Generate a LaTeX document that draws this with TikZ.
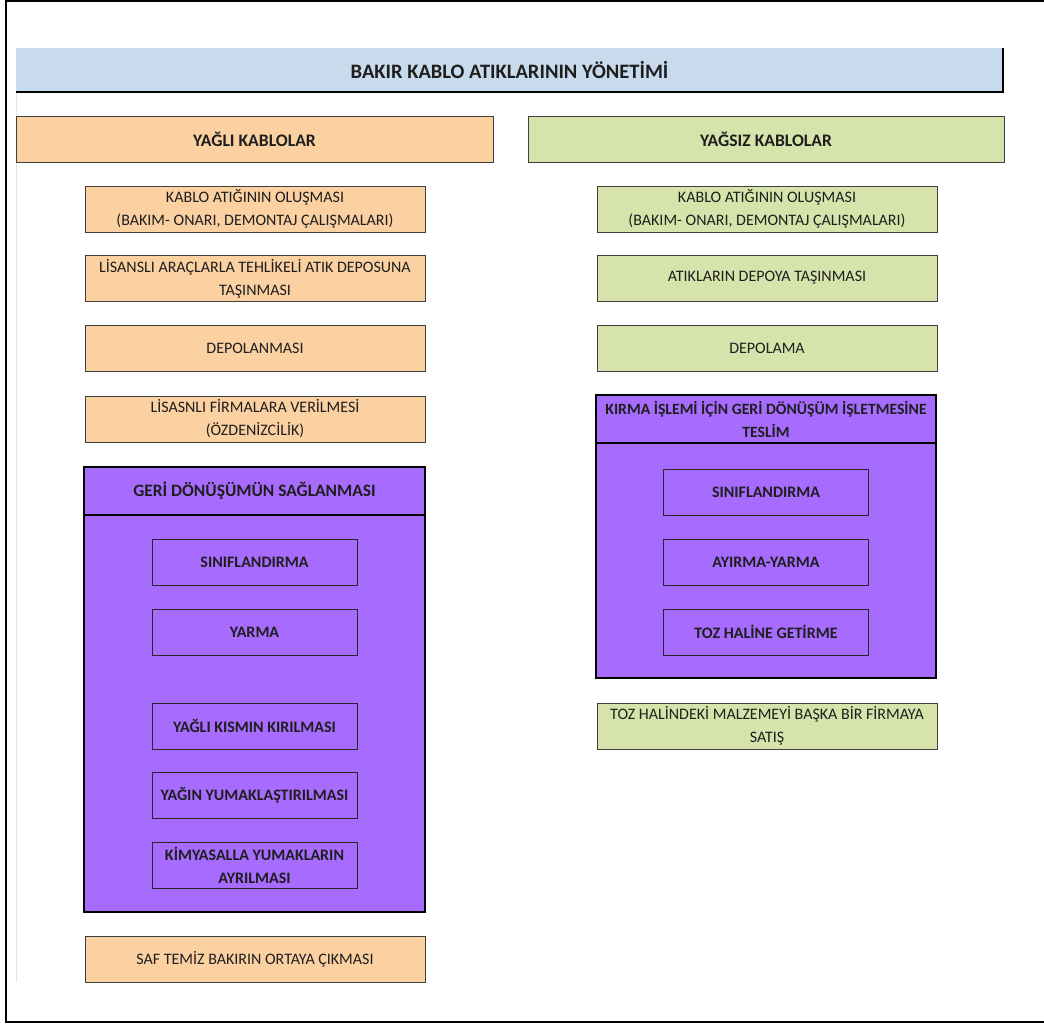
\documentclass[tikz,border=0pt]{standalone}
\usepackage{fontspec}
\setmainfont{Carlito}
\usetikzlibrary{math}

\definecolor{titlefill}{RGB}{200,219,236}
\definecolor{oilfill}{RGB}{251,209,162}
\definecolor{dryfill}{RGB}{214,228,172}
\definecolor{recfill}{RGB}{167,108,254}
\definecolor{boxline}{RGB}{64,64,64}
\definecolor{txt}{RGB}{30,30,30}
\definecolor{gridblue}{RGB}{218,227,242}

\tikzset{
    box/.style={draw=boxline, line width=1pt, text=txt, align=center, inner sep=0pt,
        minimum height=46pt, font=\fontsize{16}{23}\selectfont},
    oilbox/.style={box, fill=oilfill, minimum width=340pt},
    drybox/.style={box, fill=dryfill, minimum width=340pt},
    head/.style={box, font=\fontsize{17.6}{23}\selectfont\bfseries},
    frame/.style={draw=black, line width=2pt, fill=recfill, inner sep=0pt},
    stepbox/.style={draw=black!85, line width=1pt, fill=recfill, text=txt, inner sep=0pt,
        minimum width=205pt, minimum height=46pt, align=center,
        font=\fontsize{16}{22.5}\selectfont\bfseries},
}

\begin{document}
\begin{tikzpicture}[x=1pt, y=-1pt]
    \tikzmath{
        \lx=255;
        \rx=767;
        \lin=254.5;
        \rin=766;
    }
    \useasboundingbox (0,0) rectangle (1044,1025);

    % sheet frame
    \draw [line width=2pt] (1050,1) -- (6,1) -- (6,1022) -- (1050,1022);
    \draw [gridblue, line width=1pt] (16,48) -- (16,982);

    % title
    \node [fill=titlefill, inner sep=0pt, minimum width=987pt, minimum height=44pt,
        text=txt, font=\fontsize{20.5}{22}\selectfont\bfseries] (title) at (509.5,70) {BAKIR KABLO ATIKLARININ YÖNETİMİ};
    \draw [line width=2.5pt] (title.south west) -- (title.south east) -- (title.north east);

    % column heads
    \node [head, fill=oilfill, minimum width=477pt] (oil) at (254.5,139) {YAĞLI KABLOLAR};
    \node [head, fill=dryfill, minimum width=476pt] (dry) at (766,139) {YAĞSIZ KABLOLAR};

    % yagli kablolar
    \node [oilbox] (o1) at (\lx,209) {KABLO ATIĞININ OLUŞMASI\\(BAKIM- ONARI, DEMONTAJ ÇALIŞMALARI)};
    \node [oilbox] (o2) at (\lx,278.5) {LİSANSLI ARAÇLARLA TEHLİKELİ ATIK DEPOSUNA\\TAŞINMASI};
    \node [oilbox] (o3) at (\lx,348) {DEPOLANMASI};
    \node [oilbox] (o4) at (\lx,419) {LİSASNLI FİRMALARA VERİLMESİ\\(ÖZDENİZCİLİK)};

    \node [frame, minimum width=341pt, minimum height=445pt] (ofr) at (\lin,689.5) {};
    \node [frame, minimum width=341pt, minimum height=48pt, text=txt,
        font=\fontsize{17.4}{20}\selectfont\bfseries] (ohd) at (\lin,491) {GERİ DÖNÜŞÜMÜN SAĞLANMASI};
    \node [stepbox] (os1) at (\lin,562) {SINIFLANDIRMA};
    \node [stepbox] (os2) at (\lin,632) {YARMA};
    \node [stepbox] (os3) at (\lin,726) {YAĞLI KISMIN KIRILMASI};
    \node [stepbox] (os4) at (\lin,795) {YAĞIN YUMAKLAŞTIRILMASI};
    \node [stepbox] (os5) at (\lin,865.5) {KİMYASALLA YUMAKLARIN\\AYRILMASI};

    \node [oilbox] (o5) at (\lx,959) {SAF TEMİZ BAKIRIN ORTAYA ÇIKMASI};

    % yagsiz kablolar
    \node [drybox] (d1) at (\rx,209) {KABLO ATIĞININ OLUŞMASI\\(BAKIM- ONARI, DEMONTAJ ÇALIŞMALARI)};
    \node [drybox] (d2) at (\rx,278) {ATIKLARIN DEPOYA TAŞINMASI};
    \node [drybox] (d3) at (\rx,348) {DEPOLAMA};

    \node [frame, minimum width=340pt, minimum height=283pt] (dfr) at (\rin,536.5) {};
    \node [frame, minimum width=340pt, minimum height=48pt, text=txt, align=center,
        font=\fontsize{15.7}{23}\selectfont\bfseries] (dhd) at (\rin,419) {KIRMA İŞLEMİ İÇİN GERİ DÖNÜŞÜM İŞLETMESİNE\\TESLİM};
    \node [stepbox] (ds1) at (\rin,492) {SINIFLANDIRMA};
    \node [stepbox] (ds2) at (\rin,562) {AYIRMA-YARMA};
    \node [stepbox] (ds3) at (\rin,632) {TOZ HALİNE GETİRME};

    \node [drybox] (d4) at (\rx,726) {TOZ HALİNDEKİ MALZEMEYİ BAŞKA BİR FİRMAYA\\SATIŞ};
\end{tikzpicture}
\end{document}
